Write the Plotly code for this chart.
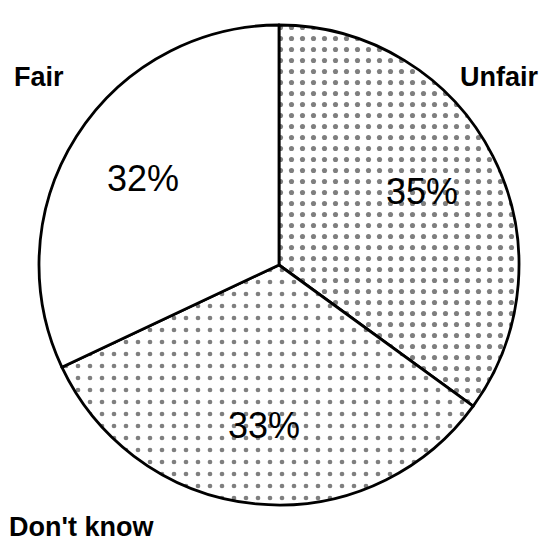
import math
import plotly.graph_objects as go

categories = ["Unfair", "Don't know", "Fair"]
values = [35, 33, 32]
shapes_pat = [".", ".", ""]
pat_sizes = [11, 12, 8]
pat_solid = [0.17, 0.12, 0.2]

W, H = 543, 545
CX, CY, R = 279, 265, 240

fig = go.Figure(go.Pie(
    labels=categories,
    values=values,
    sort=False,
    direction="clockwise",
    rotation=0,
    marker=dict(
        colors=["white", "white", "white"],
        line=dict(color="black", width=2.8),
        pattern=dict(shape=shapes_pat, size=pat_sizes, solidity=pat_solid,
                     fgcolor="black", bgcolor="white", fillmode="overlay"),
    ),
    textinfo="none",
    hoverinfo="label+value",
    showlegend=False,
    domain=dict(x=[(CX - R) / W, (CX + R) / W], y=[1 - (CY + R) / H, 1 - (CY - R) / H]),
))

# percentage labels at the mid-angle of each slice
total = sum(values)
cum = 0
for v in values:
    mid = (cum + v / 2) / total * 2 * math.pi
    cum += v
    px = CX + 0.67 * R * math.sin(mid)
    py = CY - 0.67 * R * math.cos(mid)
    fig.add_annotation(x=px / W, y=1 - py / H, xref="paper", yref="paper",
                       text=f"{v}%", showarrow=False, xanchor="center", yanchor="middle",
                       font=dict(family="Liberation Sans", size=36, color="black"))

label_pos = {"Unfair": (541, 77, "right"), "Fair": (12, 77, "left"), "Don't know": (7, 527, "left")}
for name in categories:
    x, y, anc = label_pos[name]
    fig.add_annotation(x=x / W, y=1 - y / H, xref="paper", yref="paper",
                       text=name, showarrow=False, xanchor=anc, yanchor="middle",
                       font=dict(family="Liberation Sans", size=27, color="black", weight="bold"))

fig.update_layout(width=W, height=H, margin=dict(l=0, r=0, t=0, b=0),
                  paper_bgcolor="white", plot_bgcolor="white")
fig.write_html("out.html", config={"displayModeBar": False},
               post_script="document.body.style.margin='0';")
